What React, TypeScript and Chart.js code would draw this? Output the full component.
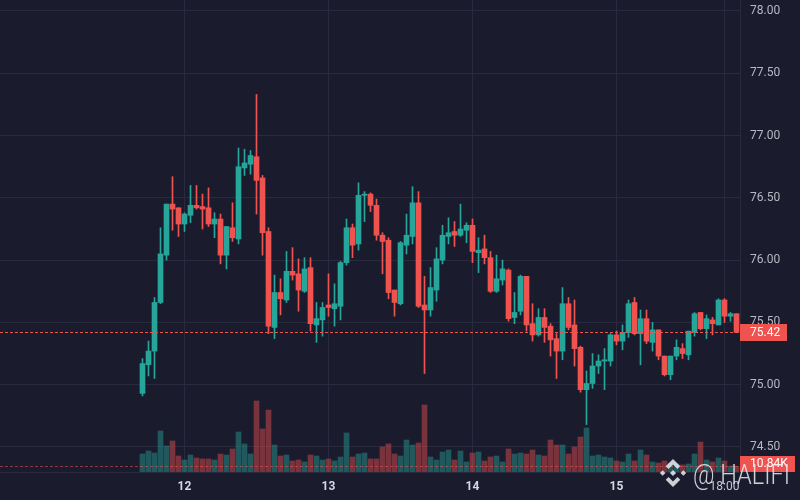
import React, { useEffect, useRef } from "react";
import { Chart, registerables } from "chart.js";

Chart.register(...registerables);

// hourly candles; first candle is 17:00 of day 11 (hours relative to day 12 00:00)
const START_HOUR = -7;

const OPEN = [
  74.93, 75.16, 75.27, 75.66, 76.04, 76.45, 76.42, 76.29, 76.36, 76.44,
  76.43, 76.42, 76.29, 76.33, 76.04, 76.26, 76.17, 76.74, 76.77, 76.83,
  76.66, 76.23, 75.46, 75.74, 75.68, 75.91, 75.89, 75.75, 75.94, 75.48,
  75.52, 75.64, 75.61, 75.63, 75.98, 76.26, 76.13, 76.52, 76.53, 76.44,
  76.2, 76.16, 75.76, 75.65, 76.12, 76.19, 76.46, 75.64, 75.6, 75.76,
  76.0, 76.19, 76.23, 76.2, 76.24, 76.28, 76.06, 76.09, 76.02, 75.75,
  75.84, 75.92, 75.54, 75.59, 75.87, 75.49, 75.4, 75.54, 75.47, 75.37,
  75.27, 75.65, 75.48, 75.3, 74.96, 75.01, 75.15, 75.19, 75.19, 75.4,
  75.35, 75.42, 75.66, 75.41, 75.53, 75.34, 75.44, 75.23, 75.08, 75.23,
  75.29, 75.24, 75.42, 75.58, 75.45, 75.52, 75.48, 75.68, 75.55, 75.57,
];
const HIGH = [
  75.21, 75.35, 75.7, 76.26, 76.45, 76.67, 76.42, 76.38, 76.6, 76.6,
  76.53, 76.58, 76.38, 76.37, 76.27, 76.46, 76.9, 76.89, 76.88, 77.33,
  76.68, 76.26, 75.88, 75.85, 76.07, 76.1, 76.01, 76.02, 76.02, 75.66,
  75.66, 75.89, 75.81, 75.99, 76.33, 76.29, 76.62, 76.55, 76.54, 76.49,
  76.22, 76.18, 75.76, 76.15, 76.37, 76.59, 76.55, 75.87, 75.94, 76.1,
  76.28, 76.34, 76.31, 76.45, 76.3, 76.33, 76.18, 76.2, 76.07, 76.04,
  76.0, 75.93, 75.74, 75.88, 75.87, 75.65, 75.61, 75.61, 75.49, 75.41,
  75.78, 75.7, 75.68, 75.31, 75.11, 75.25, 75.24, 75.29, 75.41, 75.43,
  75.48, 75.68, 75.7, 75.6, 75.6, 75.5, 75.44, 75.23, 75.23, 75.36,
  75.33, 75.43, 75.58, 75.58, 75.56, 75.54, 75.69, 75.69, 75.58, 75.57,
];
const LOW = [
  74.91, 75.07, 75.05, 75.65, 76.0, 76.24, 76.19, 76.23, 76.3, 76.41,
  76.25, 76.27, 76.18, 75.97, 75.93, 76.15, 76.13, 76.68, 76.69, 76.37,
  76.04, 75.41, 75.37, 75.56, 75.66, 75.84, 75.59, 75.74, 75.43, 75.34,
  75.39, 75.55, 75.47, 75.52, 75.96, 76.02, 76.08, 76.31, 76.39, 76.16,
  75.89, 75.69, 75.55, 75.64, 76.05, 76.13, 75.62, 75.09, 75.55, 75.67,
  75.97, 76.13, 76.11, 76.19, 76.14, 75.98, 75.9, 75.97, 75.74, 75.74,
  75.8, 75.51, 75.49, 75.56, 75.43, 75.35, 75.39, 75.34, 75.23, 75.05,
  75.2, 75.44, 75.15, 74.94, 74.68, 74.97, 75.09, 74.96, 75.15, 75.32,
  75.28, 75.38, 75.4, 75.16, 75.33, 75.27, 75.2, 75.07, 75.04, 75.2,
  75.21, 75.2, 75.39, 75.44, 75.37, 75.4, 75.48, 75.5, 75.51, 75.42,
];
const CLOSE = [
  75.17, 75.27, 75.66, 76.05, 76.45, 76.41, 76.29, 76.37, 76.44, 76.42,
  76.41, 76.29, 76.33, 76.04, 76.27, 76.18, 76.75, 76.78, 76.84, 76.64,
  76.22, 75.47, 75.74, 75.69, 75.91, 75.88, 75.76, 75.93, 75.49, 75.53,
  75.62, 75.62, 75.65, 75.98, 76.26, 76.12, 76.52, 76.53, 76.44, 76.2,
  76.15, 75.74, 75.66, 76.14, 76.2, 76.46, 75.63, 75.6, 75.78, 76.01,
  76.2, 76.22, 76.2, 76.25, 76.28, 76.07, 76.08, 76.02, 75.75, 75.85,
  75.93, 75.53, 75.58, 75.87, 75.48, 75.4, 75.54, 75.46, 75.36, 75.27,
  75.65, 75.46, 75.29, 74.96, 75.01, 75.15, 75.19, 75.2, 75.4, 75.35,
  75.42, 75.65, 75.41, 75.53, 75.35, 75.44, 75.23, 75.08, 75.23, 75.3,
  75.25, 75.43, 75.57, 75.45, 75.53, 75.49, 75.68, 75.55, 75.57, 75.42,
];
// volume in thousands
const VOLUME = [
  34.3, 40.0, 36.2, 78.2, 49.6, 59.1, 30.5, 22.9, 32.4, 26.7,
  24.8, 24.8, 22.9, 34.3, 32.4, 43.9, 76.3, 53.4, 34.3, 135.4,
  82.0, 118.2, 51.5, 30.5, 32.4, 21.0, 22.9, 19.1, 32.4, 30.5,
  22.9, 24.8, 21.0, 28.6, 74.4, 28.6, 34.3, 36.2, 24.8, 24.8,
  47.7, 53.4, 34.3, 30.5, 61.0, 51.5, 55.3, 127.8, 28.6, 22.9,
  38.1, 42.0, 22.9, 40.0, 19.1, 36.2, 38.1, 21.0, 28.6, 30.5,
  19.1, 43.9, 34.3, 36.2, 34.3, 42.0, 32.4, 30.5, 61.0, 51.5,
  51.5, 34.3, 47.7, 66.7, 83.9, 30.5, 32.4, 28.6, 26.7, 21.0,
  19.1, 34.3, 21.0, 42.0, 32.4, 19.1, 17.2, 21.0, 17.2, 15.3,
  13.4, 15.3, 34.3, 57.2, 22.9, 19.1, 26.7, 21.0, 11.4, 10.84,
];

const TIME_TICKS = [0, 24, 48, 72, 90];
const TIME_LABELS = ["12", "13", "14", "15", "18:00"];
const PRICE_TICKS = [74.5, 75, 75.5, 76, 76.5, 77, 77.5, 78];

const BG = "#1b1b2e";
const GRID = "#2a2a3e";
const UP = "#26a69a";
const DOWN = "#ef5350";
const UP_VOL = "rgba(38,166,154,0.44)";
const DOWN_VOL = "rgba(239,83,80,0.44)";
const TEXT = "#b6b8c2";
const FONT = "Roboto, 'Liberation Sans', sans-serif";

const overlayPlugin = {
  id: "overlay",
  afterDatasetsDraw(chart: any) {
    const { ctx, chartArea } = chart;
    const last = CLOSE.length - 1;
    const up = CLOSE[last] >= OPEN[last];
    const py = Math.round(chart.scales.y.getPixelForValue(CLOSE[last])) + 0.5;
    const vy = Math.round(chart.scales.yv.getPixelForValue(VOLUME[last])) + 0.5;
    ctx.save();
    ctx.lineWidth = 1;
    ctx.setLineDash([3, 2]);
    ctx.strokeStyle = up ? UP : DOWN;
    ctx.beginPath();
    ctx.moveTo(chartArea.left, py);
    ctx.lineTo(chartArea.right, py);
    ctx.stroke();
    ctx.strokeStyle = up ? "rgba(38,166,154,0.55)" : "rgba(239,83,80,0.55)";
    ctx.beginPath();
    ctx.moveTo(chartArea.left, vy);
    ctx.lineTo(chartArea.right, vy);
    ctx.stroke();
    ctx.restore();
  },
  afterDraw(chart: any) {
    const { ctx, chartArea } = chart;
    const last = CLOSE.length - 1;
    const up = CLOSE[last] >= OPEN[last];
    const py = chart.scales.y.getPixelForValue(CLOSE[last]);
    const vy = chart.scales.yv.getPixelForValue(VOLUME[last]);
    ctx.save();
    // last price label
    ctx.fillStyle = up ? UP : DOWN;
    ctx.fillRect(chartArea.right, Math.round(py) - 8, 47, 17);
    ctx.fillStyle = "#ffffff";
    ctx.font = `12px ${FONT}`;
    ctx.textBaseline = "middle";
    ctx.textAlign = "left";
    ctx.fillText(CLOSE[last].toFixed(2), chartArea.right + 10, Math.round(py) + 0.5);
    // last volume label
    ctx.fillStyle = up ? UP : DOWN;
    ctx.fillRect(chartArea.right, Math.round(vy) - 10, 55, 16);
    ctx.fillStyle = "#ffffff";
    ctx.fillText(VOLUME[last].toFixed(2) + "K", chartArea.right + 10, Math.round(vy) - 2);

    // watermark logo
    const cx = 673;
    const cy = 473;
    const s = 14;
    ctx.fillStyle = "rgba(232,232,238,0.88)";
    const poly = (pts: number[][]) => {
      ctx.beginPath();
      pts.forEach((p, i) => {
        const X = cx + p[0] * s;
        const Y = cy + p[1] * s;
        if (i === 0) ctx.moveTo(X, Y);
        else ctx.lineTo(X, Y);
      });
      ctx.closePath();
      ctx.fill();
    };
    poly([[0, -0.22], [0.22, 0], [0, 0.22], [-0.22, 0]]);
    poly([[-0.74, -0.2], [-0.54, 0], [-0.74, 0.2], [-0.94, 0]]);
    poly([[0.74, -0.2], [0.94, 0], [0.74, 0.2], [0.54, 0]]);
    poly([[0, -1], [0.52, -0.48], [0.32, -0.28], [0, -0.6], [-0.32, -0.28], [-0.52, -0.48]]);
    poly([[0, 1], [0.52, 0.48], [0.32, 0.28], [0, 0.6], [-0.32, 0.28], [-0.52, 0.48]]);
    // watermark text
    ctx.font = `300 27px ${FONT}`;
    ctx.textBaseline = "alphabetic";
    ctx.fillText("@ HALIFI", 693, 484, 97);
    ctx.restore();
  },
};

export default function App() {
  const canvasRef = useRef<HTMLCanvasElement | null>(null);

  useEffect(() => {
    if (!canvasRef.current) return;
    const xs = CLOSE.map((_, i) => START_HOUR + i);
    const isUp = CLOSE.map((c, i) => c >= OPEN[i]);

    const chart = new Chart(canvasRef.current, {
      type: "bar",
      data: {
        datasets: [
          {
            label: "body",
            data: xs.map((x, i) => ({ x, y: [OPEN[i], CLOSE[i]] })) as any,
            backgroundColor: isUp.map((u) => (u ? UP : DOWN)),
            barThickness: 5,
            minBarLength: 1,
            grouped: false,
            yAxisID: "y",
            order: 1,
          } as any,
          {
            label: "wick",
            data: xs.map((x, i) => ({ x, y: [LOW[i], HIGH[i]] })) as any,
            backgroundColor: isUp.map((u) => (u ? UP : DOWN)),
            barThickness: 1,
            grouped: false,
            yAxisID: "y",
            order: 2,
          } as any,
          {
            label: "volume",
            data: xs.map((x, i) => ({ x, y: VOLUME[i] })) as any,
            backgroundColor: isUp.map((u) => (u ? UP_VOL : DOWN_VOL)),
            barThickness: 5,
            grouped: false,
            yAxisID: "yv",
            order: 3,
          } as any,
        ],
      },
      options: {
        responsive: false,
        animation: false,
        layout: { padding: 0, autoPadding: false },
        plugins: {
          legend: { display: false },
          tooltip: { enabled: false },
        },
        scales: {
          x: {
            type: "linear",
            min: -30.75,
            max: 92.583,
            offset: false,
            grid: { color: GRID, drawTicks: false, lineWidth: 1, offset: false },
            border: { display: true, color: GRID },
            afterBuildTicks: (s: any) => {
              s.ticks = TIME_TICKS.map((v) => ({ value: v }));
            },
            afterFit: (s: any) => {
              s.height = 28;
              s.paddingLeft = 0;
              s.paddingRight = 0;
              s.paddingTop = 0;
              s.paddingBottom = 0;
            },
            ticks: {
              autoSkip: false,
              maxRotation: 0,
              padding: 8,
              color: (c: any) => (TIME_LABELS[c.index]?.includes(":") ? "#c4c6cf" : "#d6d8df"),
              font: (c: any) => ({
                size: 12,
                family: FONT,
                weight: TIME_LABELS[c.index]?.includes(":") ? "normal" : "bold",
              }),
              callback: (_v: any, i: number) => TIME_LABELS[i],
            },
          },
          y: {
            position: "right",
            min: 74.2993,
            max: 78.0883,
            grid: { color: GRID, drawTicks: false, lineWidth: 1 },
            border: { display: true, color: GRID },
            afterBuildTicks: (s: any) => {
              s.ticks = PRICE_TICKS.map((v) => ({ value: v }));
            },
            afterFit: (s: any) => {
              s.width = 60;
              s.paddingLeft = 0;
              s.paddingRight = 0;
              s.paddingTop = 0;
              s.paddingBottom = 0;
            },
            ticks: {
              padding: 10,
              color: TEXT,
              font: { size: 12, family: FONT },
              callback: (v: any) => Number(v).toFixed(2),
            },
          },
          yv: {
            display: false,
            position: "right",
            min: 0,
            max: 900,
          },
        },
      } as any,
      plugins: [overlayPlugin],
    });
    return () => chart.destroy();
  }, []);

  return (
    <div
      style={{
        position: "fixed",
        left: 0,
        top: 0,
        width: 800,
        height: 500,
        background: BG,
      }}
    >
      <canvas ref={canvasRef} width={800} height={500} style={{ display: "block", width: 800, height: 500 }} />
    </div>
  );
}
